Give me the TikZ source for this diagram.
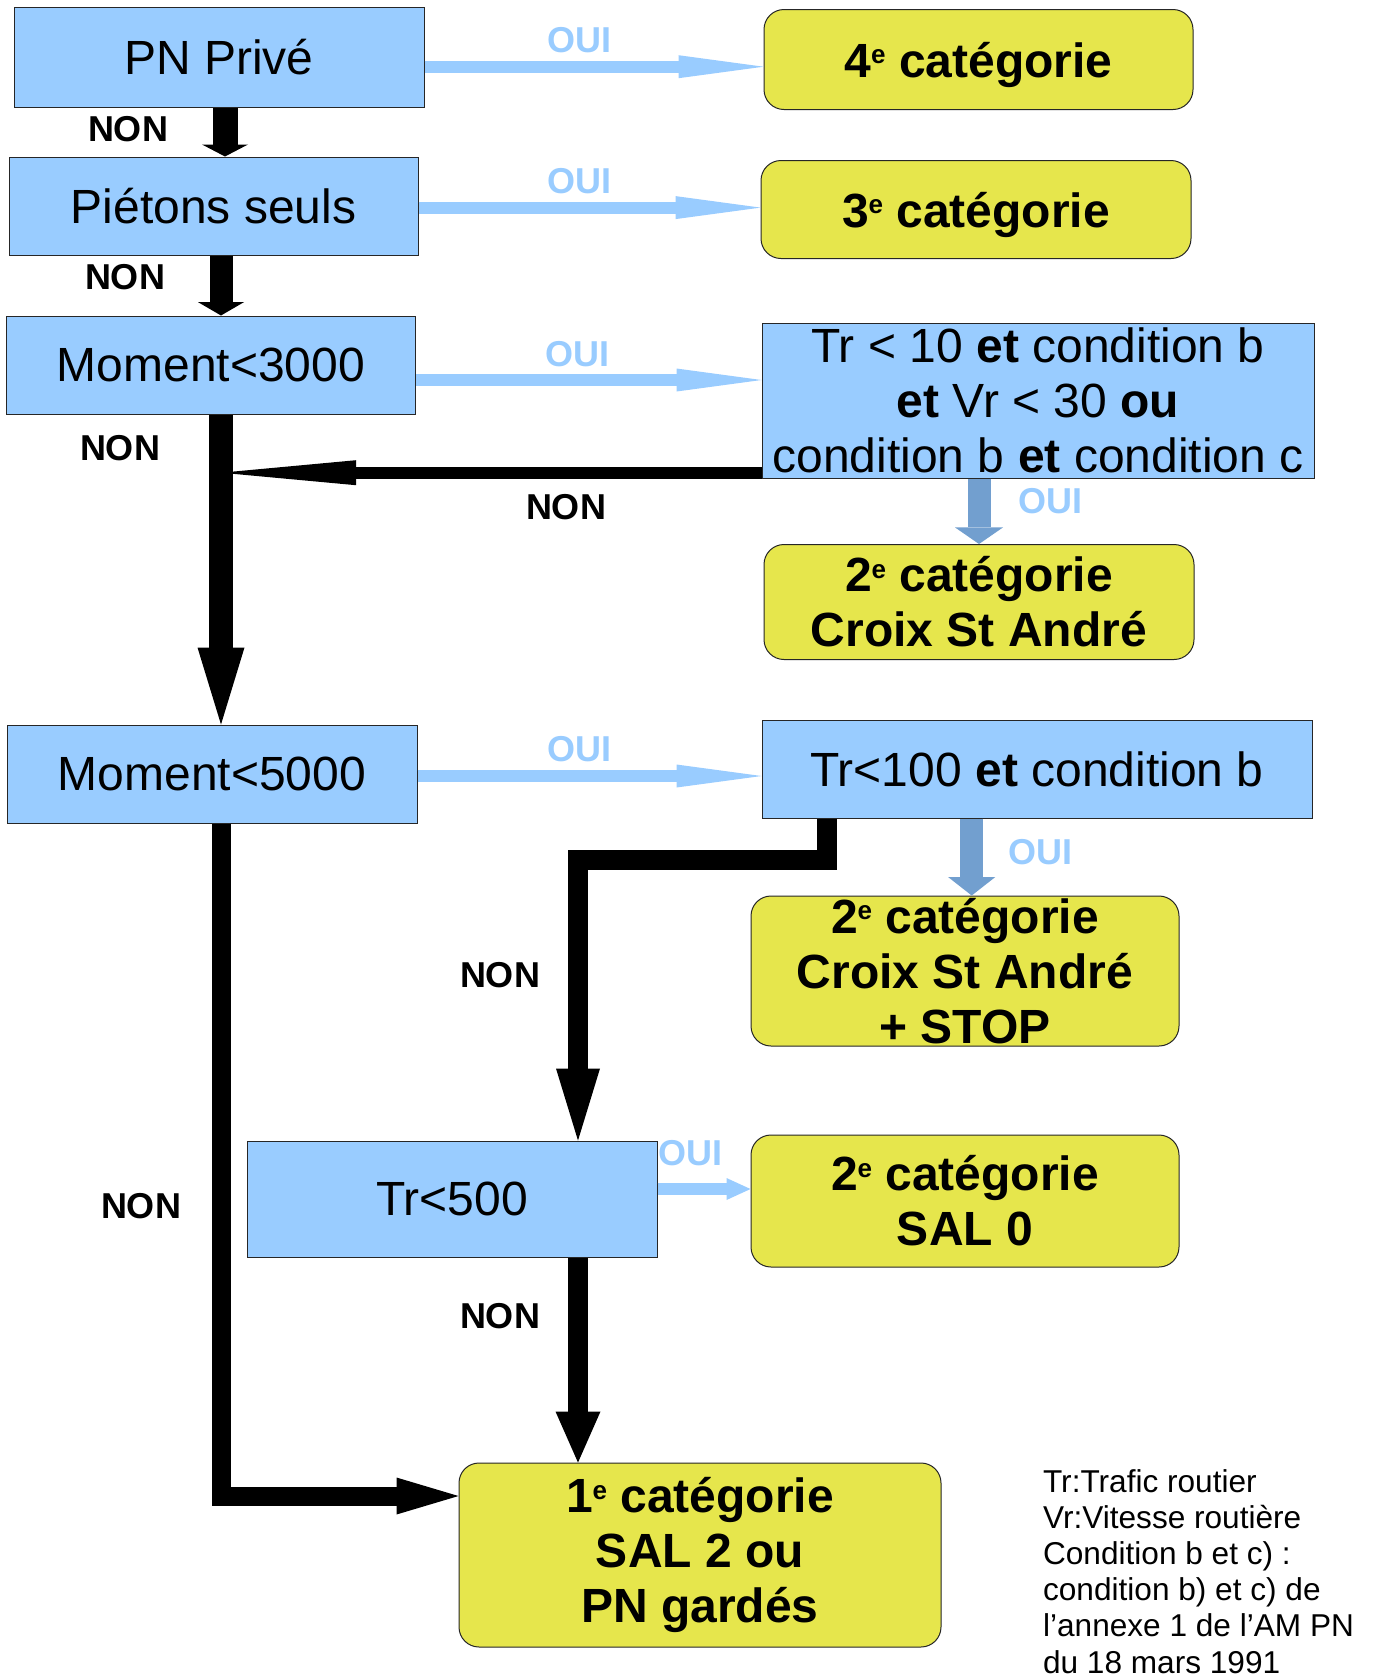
\documentclass[tikz,border=0pt]{standalone}
\usepackage{fontspec}
\setmainfont{Liberation Sans}
\usetikzlibrary{arrows.meta}

\definecolor{qblue}{HTML}{99CCFF}
\definecolor{ouidark}{HTML}{729FCF}
\definecolor{catyel}{HTML}{E6E64C}

\newcommand\expo{\raisebox{6.7pt}{\fontsize{13}{13}\selectfont e}}

\begin{document}
\begin{tikzpicture}[x=0.5pt,y=-0.5pt,
    question/.style={draw=black!85,line width=0.5pt,fill=qblue,inner sep=0pt,align=center,
      font=\fontsize{24}{27.5}\selectfont},
    categ/.style={draw=black!85,line width=0.5pt,fill=catyel,rounded corners=10pt,inner sep=0pt,
      align=center,font=\fontsize{24}{27.5}\selectfont\bfseries},
    ouilbl/.style={text=qblue,inner sep=0pt,font=\fontsize{18}{20}\selectfont\bfseries},
    nonlbl/.style={inner sep=0pt,font=\fontsize{18}{20}\selectfont\bfseries},
    ouiarrow/.style 2 args={draw=qblue,line width=6pt,-{Triangle[width=#1,length=#2,line width=0pt]}},
    ouidown/.style 2 args={draw=ouidark,line width=11.5pt,-{Triangle[width=#1,length=#2,line width=0pt]}},
    nonarrow/.style n args={3}{draw=black,line width=#1,line join=miter,
      -{Triangle[width=#2,length=#3,line width=0pt]}}]

\fill[white] (0,0) rectangle (1374,1678);

% questions
\node[question,minimum width=205pt,minimum height=50pt] (pn) at (219,57) {PN Privé};
\node[question,minimum width=204.5pt,minimum height=49pt] (pietons) at (213.5,206) {Piétons seuls};
\node[question,minimum width=204.5pt,minimum height=49pt] (m3000) at (211,365) {Moment<3000};
\node[question,minimum width=276pt,minimum height=77.5pt] (tr10) at (1038,400.5)
  {Tr < 10 \textbf{et} condition b\\ \textbf{et} Vr < 30 \textbf{ou}\\ condition b \textbf{et} condition c};
\node[question,minimum width=205pt,minimum height=49pt] (m5000) at (212,774) {Moment<5000};
\node[question,minimum width=275pt,minimum height=49pt] (tr100) at (1037,769) {Tr<100 \textbf{et} condition b};
\node[question,minimum width=205pt,minimum height=58pt] (tr500) at (452,1199) {Tr<500};

% categories
\node[categ,text depth=0pt,minimum width=214.5pt,minimum height=50pt] (cat4) at (978.5,59.5) {4\expo{} catégorie};
\node[categ,text depth=0pt,minimum width=215pt,minimum height=49pt] (cat3) at (976,209.5) {3\expo{} catégorie};
\node[categ,minimum width=215pt,minimum height=57.5pt] (cat2a) at (979,602) {2\expo{} catégorie\\Croix St André};
\node[categ,minimum width=214pt,minimum height=75pt] (cat2b) at (965,971) {2\expo{} catégorie\\Croix St André\\+ STOP};
\node[categ,minimum width=214pt,minimum height=66pt] (cat2c) at (965,1201) {2\expo{} catégorie\\SAL 0};
\node[categ,minimum width=241pt,minimum height=92pt] (cat1) at (700,1555) {1\expo{} catégorie\\SAL 2 ou\\PN gardés};

% rows and columns of the connectors
\coordinate (rowA) at (0,66.7);
\coordinate (rowB) at (0,207.6);
\coordinate (rowC) at (0,380);
\coordinate (rowD) at (0,776);
\coordinate (rowE) at (0,1189);
\coordinate (rowF) at (0,472.7);
\coordinate (rowG) at (0,1496);
\coordinate (colA) at (225,0);
\coordinate (colB) at (221,0);
\coordinate (colC) at (827,0);
\coordinate (colD) at (971.7,0);
\coordinate (bend) at (578,860);

% oui
\draw[ouiarrow={11.5pt}{42.5pt}] (pn.east |- rowA) -- (cat4.west |- rowA);
\draw[ouiarrow={11.5pt}{42.5pt}] (pietons.east |- rowB) -- (cat3.west |- rowB);
\draw[ouiarrow={11.5pt}{42.5pt}] (m3000.east |- rowC) -- (tr10.west |- rowC);
\draw[ouiarrow={11.5pt}{42.5pt}] (m5000.east |- rowD) -- (tr100.west |- rowD);
\draw[ouiarrow={11pt}{12pt}] (tr500.east |- rowE) -- (cat2c.west |- rowE);
\draw[ouidown={24pt}{8.3pt}] (tr10.south -| cat2a.north) -- (cat2a.north);
\draw[ouidown={23.5pt}{9.2pt}] (tr100.south -| colD) -- (cat2b.north -| colD);

% non
\draw[nonarrow={12.5pt}{23pt}{6pt}] (pn.south -| colA) -- (pietons.north -| colA);
\draw[nonarrow={11.5pt}{23pt}{6.7pt}] (pietons.south -| colB) -- (m3000.north -| colB);
\draw[nonarrow={12pt}{23.5pt}{38.5pt}] (m3000.south -| colB) -- (m5000.north -| colB);
\draw[nonarrow={6pt}{12.5pt}{67.5pt}] (tr10.west |- rowF) -- (colB |- rowF);
\draw[nonarrow={9.5pt}{18.5pt}{31pt}] (m5000.south -| colB) |- (cat1.west |- rowG);
\draw[nonarrow={10pt}{22pt}{36pt}] (tr100.south -| colC) |- (bend) -- (tr500.north -| bend);
\draw[nonarrow={10pt}{22.5pt}{25.5pt}] (tr500.south -| bend) -- (cat1.north -| bend);

% labels
\node[ouilbl] (oui1) at (579,40) {OUI};
\node[ouilbl] (oui2) at (579,181) {OUI};
\node[ouilbl] (oui3) at (577,354) {OUI};
\node[ouilbl] (oui4) at (1050,501.5) {OUI};
\node[ouilbl] (oui5) at (579,749) {OUI};
\node[ouilbl] (oui6) at (1040,852) {OUI};
\node[ouilbl] (oui7) at (690.5,1153) {OUI};

\node[nonlbl] (non1) at (128,129) {NON};
\node[nonlbl] (non2) at (125,277) {NON};
\node[nonlbl] (non3) at (120,448) {NON};
\node[nonlbl] (non4) at (566,507) {NON};
\node[nonlbl] (non5) at (500,975) {NON};
\node[nonlbl] (non6) at (141,1206) {NON};
\node[nonlbl] (non7) at (500,1316) {NON};

\node[anchor=base west,align=left,inner sep=0pt,font=\fontsize{15.8}{18.07}\selectfont] (legende) at (1042.7,1673)
  {Tr:Trafic routier\\Vr:Vitesse routière\\Condition b et c) :\\condition b) et c) de\\l’annexe 1 de l’AM PN\\du 18 mars 1991};

\end{tikzpicture}
\end{document}
